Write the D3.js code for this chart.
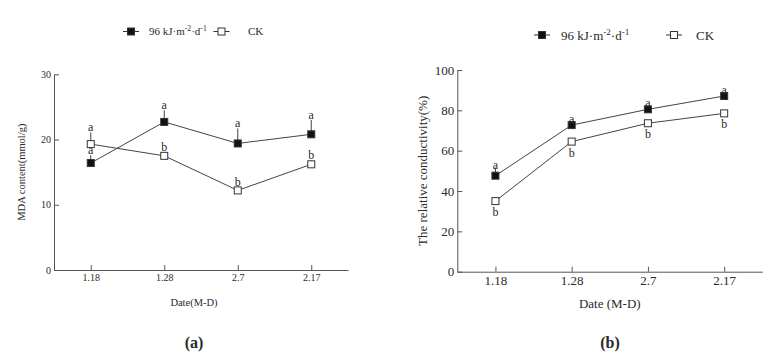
<!DOCTYPE html>
<html>
<head>
<meta charset="utf-8">
<script src="https://cdn.jsdelivr.net/npm/d3@7"></script>
<style>
  body { margin: 0; background: #fff; }
  text { font-family: "Liberation Serif", "Times New Roman", serif; fill: #2a2a2a; }
  .axis path, .axis line { stroke: #555; }
  .axis text { fill: #2a2a2a; }
</style>
</head>
<body>
<div id="chart-area"></div>
<script>
// shared categories
const dates = ['1.18', '1.28', '2.7', '2.17'];

// (a) MDA content
const mdaUV = [16.4, 22.7, 19.4, 20.8];
const mdaUVErr = [1.2, 1.8, 2.3, 2.2];
const mdaUVSig = ['a', 'a', 'a', 'a'];
const mdaCK = [19.3, 17.5, 12.2, 16.2];
const mdaCKErr = [1.8, 0.6, 0.6, 0.6];
const mdaCKSig = ['a', 'b', 'b', 'b'];
const mdaTicks = [0, 10, 20, 30];

// (b) relative conductivity
const condUV = [47.6, 72.7, 80.5, 87.1];
const condUVErr = [4, 1.5, 1.5, 1.5];
const condUVSig = ['a', 'a', 'a', 'a'];
const condCK = [35.0, 64.5, 73.6, 78.5];
const condCKErr = [1.5, 1.5, 1.5, 1.5];
const condCKSig = ['b', 'b', 'b', 'b'];
const condTicks = [0, 20, 40, 60, 80, 100];

const svg = d3.select('#chart-area')
  .append('svg')
  .attr('width', 778)
  .attr('height', 362)

svg.append('rect').attr('width', 778).attr('height', 362).attr('fill', '#fff')

const drawPanel = (opt) => {
  const x = d3.scalePoint()
    .domain(dates)
    .range([opt.left, opt.right])
    .padding(0.5)

  const y = d3.scaleLinear()
    .domain([0, opt.max])
    .range([opt.bottom, opt.top])

  const g = svg.append('g')

  g.append('g')
    .attr('class', 'axis')
    .attr('transform', `translate(0,${opt.bottom})`)
    .call(d3.axisBottom(x).tickSizeInner(-5).tickSizeOuter(0).tickPadding(4))
    .call(a => a.selectAll('text').attr('font-size', opt.fs).attr('font-family', 'Liberation Serif'))

  g.append('g')
    .attr('class', 'axis')
    .attr('transform', `translate(${opt.left},0)`)
    .call(d3.axisLeft(y).tickValues(opt.ticks).tickSizeInner(-5).tickSizeOuter(0).tickPadding(3))
    .call(a => a.selectAll('text').attr('font-size', opt.fs).attr('font-family', 'Liberation Serif'))

  // axis titles
  g.append('text')
    .attr('x', (opt.left + opt.right) / 2 + opt.xTitleShift)
    .attr('y', opt.xTitleY)
    .attr('text-anchor', 'middle')
    .attr('font-size', opt.titleFs)
    .text(opt.xTitle)

  g.append('text')
    .attr('transform', `translate(${opt.yTitleX},${(opt.top + opt.bottom) / 2}) rotate(-90)`)
    .attr('text-anchor', 'middle')
    .attr('font-size', opt.titleFs)
    .text(opt.yTitle)

  const series = [
    { vals: opt.uv, err: opt.uvErr, sig: opt.uvSig, fill: '#111', dir: -1, below: false },
    { vals: opt.ck, err: opt.ckErr, sig: opt.ckSig, fill: '#fff', dir: opt.ckDir, below: opt.ckBelow }
  ]

  const line = d3.line()
    .x((d, i) => x(dates[i]))
    .y(d => y(d))

  series.forEach(s => {
    // error bars
    g.selectAll(null).data(s.vals).enter().append('line')
      .attr('x1', (d, i) => x(dates[i]))
      .attr('x2', (d, i) => x(dates[i]))
      .attr('y1', d => y(d))
      .attr('y2', (d, i) => y(d - s.dir * s.err[i]))
      .attr('stroke', '#444')
      .attr('stroke-width', 1)

    g.append('path')
      .datum(s.vals)
      .attr('d', line)
      .attr('fill', 'none')
      .attr('stroke', '#444')
      .attr('stroke-width', 1)
  })

  series.forEach(s => {
    g.selectAll(null).data(s.vals).enter().append('rect')
      .attr('x', (d, i) => x(dates[i]) - 3.5)
      .attr('y', d => y(d) - 3.5)
      .attr('width', 7)
      .attr('height', 7)
      .attr('fill', s.fill)
      .attr('stroke', '#333')
      .attr('stroke-width', 1)

    // significance letters
    g.selectAll(null).data(s.vals).enter().append('text')
      .attr('x', (d, i) => x(dates[i]))
      .attr('y', (d, i) => s.below ? y(d) + opt.belowOff : y(d + s.err[i]) + opt.aboveOff)
      .attr('text-anchor', 'middle')
      .attr('font-size', opt.sigFs)
      .text((d, i) => s.sig[i])
  })

  // legend
  const lg = svg.append('g')
  const items = [
    { x: opt.legX[0], fill: '#111', label: null },
    { x: opt.legX[1], fill: '#fff', label: 'CK' }
  ]
  items.forEach((it, k) => {
    lg.append('line')
      .attr('x1', it.x - 8).attr('x2', it.x + 8)
      .attr('y1', opt.legY).attr('y2', opt.legY)
      .attr('stroke', '#333')
    lg.append('rect')
      .attr('x', it.x - 3.5).attr('y', opt.legY - 3.5)
      .attr('width', 7).attr('height', 7)
      .attr('fill', it.fill).attr('stroke', '#333')
    const t = lg.append('text')
      .attr('x', opt.legText[k])
      .attr('y', opt.legY + opt.legFs * 0.35)
      .attr('font-size', opt.legFs)
    if (k === 0) {
      t.append('tspan').text('96 kJ·m')
      t.append('tspan').attr('dy', -opt.legFs * 0.35).attr('font-size', opt.legFs * 0.7).text('-2')
      t.append('tspan').attr('dy', opt.legFs * 0.35).text('·d')
      t.append('tspan').attr('dy', -opt.legFs * 0.35).attr('font-size', opt.legFs * 0.7).text('-1')
    } else {
      t.text(it.label)
    }
  })

  svg.append('text')
    .attr('x', opt.tagX)
    .attr('y', 348)
    .attr('text-anchor', 'middle')
    .attr('font-size', 16)
    .attr('font-weight', 'bold')
    .attr('font-family', 'Liberation Sans Narrow, Liberation Sans, sans-serif')
    .attr('fill', '#111')
    .text(opt.tag)
}

drawPanel({
  left: 54, right: 348, top: 74.3, bottom: 270, max: 30, ticks: mdaTicks,
  uv: mdaUV, uvErr: mdaUVErr, uvSig: mdaUVSig,
  ck: mdaCK, ckErr: mdaCKErr, ckSig: mdaCKSig, ckDir: -1, ckBelow: false,
  fs: 10, titleFs: 10.5, sigFs: 12, aboveOff: -1, belowOff: 14,
  xTitle: 'Date(M-D)', xTitleY: 306, xTitleShift: -7,
  yTitle: 'MDA content(mmol/g)', yTitleX: 25,
  legY: 31.5, legX: [131, 221.5], legText: [149, 248], legFs: 11,
  tag: '(a)', tagX: 194
})

drawPanel({
  left: 457.3, right: 762.3, top: 70, bottom: 271.7, max: 100, ticks: condTicks,
  uv: condUV, uvErr: condUVErr, uvSig: condUVSig,
  ck: condCK, ckErr: condCKErr, ckSig: condCKSig, ckDir: 1, ckBelow: true,
  fs: 13, titleFs: 13, sigFs: 12, aboveOff: 1, belowOff: 15,
  xTitle: 'Date (M-D)', xTitleY: 307.5, xTitleShift: 0,
  yTitle: 'The relative conductivity(%)', yTitleX: 427,
  legY: 35, legX: [542, 674], legText: [561, 696], legFs: 13,
  tag: '(b)', tagX: 610
})
</script>
</body>
</html>
